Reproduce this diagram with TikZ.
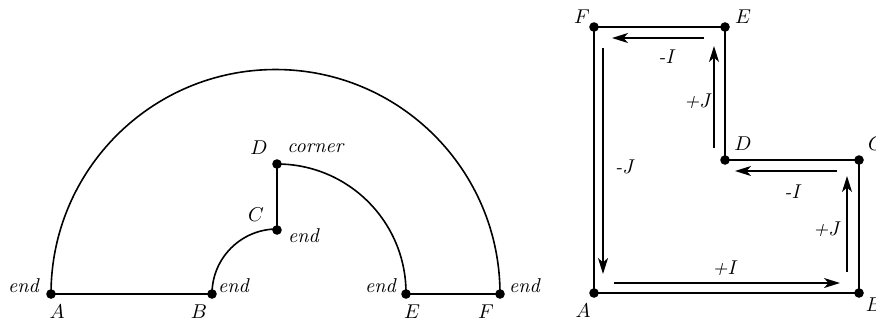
\documentclass[tikz,border=0pt]{standalone}
\usetikzlibrary{arrows.meta}
\begin{document}
\begin{tikzpicture}[x=0.5pt,y=-0.5pt,
  edge/.style={line width=0.8pt},
  pt/.style={circle,fill=black,inner sep=0pt,minimum size=4.8pt},
  flow/.style={line width=0.75pt,-{Stealth[length=8pt,width=5pt,inset=2.2pt]}},
  lbl/.style={inner sep=0pt}]
\useasboundingbox (0,0) rectangle (876,323);
% ---------- left figure ----------
\coordinate (LA) at (51,294);
\coordinate (LB) at (212,294);
\coordinate (LC) at (277,230);
\coordinate (LD) at (277,164);
\coordinate (LE) at (406,294);
\coordinate (LF) at (500,294);
\draw[edge] (LA) -- (LB);
\draw[edge] (LE) -- (LF);
\draw[edge] (LC) -- (LD);
\draw[edge] (LA) arc[start angle=180,end angle=360,radius=224.5];
\draw[edge] (LB) arc[start angle=180,end angle=270,radius=65];
\draw[edge] (LD) arc[start angle=270,end angle=360,radius=129];
\foreach \p in {LA,LB,LC,LD,LE,LF} \node[pt] at (\p) {};
\node[lbl] (tA) at (57,312) {$A$};
\node[lbl] (tB) at (199,312) {$B$};
\node[lbl] (tC) at (256,215) {$C$};
\node[lbl] (tD) at (259,148) {$D$};
\node[lbl] (tE) at (412,312) {$E$};
\node[lbl] (tF) at (486,312) {$F$};
\node[lbl] (eA) at (24,286) {\textit{end}};
\node[lbl] (eB) at (234,286) {\textit{end}};
\node[lbl] (eC) at (304,236) {\textit{end}};
\node[lbl] (cD) at (316,148) {\textit{corner}};
\node[lbl] (eE) at (381,286) {\textit{end}};
\node[lbl] (eF) at (525,286) {\textit{end}};
% ---------- right figure ----------
\coordinate (RA) at (594,293);
\coordinate (RB) at (859,293);
\coordinate (RC) at (859,160);
\coordinate (RD) at (725,160);
\coordinate (RE) at (725,27);
\coordinate (RF) at (594,27);
\draw[edge] (RA) -- (RB) -- (RC) -- (RD) -- (RE) -- (RF) -- cycle;
\foreach \p in {RA,RB,RC,RD,RE,RF} \node[pt] at (\p) {};
\node[lbl] (sF) at (582,17) {$F$};
\node[lbl] (sE) at (743,17) {$E$};
\node[lbl] (sD) at (743,144) {$D$};
\node[lbl] (sC) at (876,144) {$C$};
\node[lbl] (sA) at (583,311) {$A$};
\node[lbl] (sB) at (874,305) {$B$};
% flow arrows
\coordinate (a1s) at (704,38);  \coordinate (a1e) at (612,38);
\coordinate (a2s) at (714,148); \coordinate (a2e) at (714,46);
\coordinate (a3s) at (603,48);  \coordinate (a3e) at (603,274);
\coordinate (a4s) at (614,283); \coordinate (a4e) at (840,283);
\coordinate (a5s) at (847,272); \coordinate (a5e) at (847,176);
\coordinate (a6s) at (837,171); \coordinate (a6e) at (735,171);
\draw[flow] (a1s) -- (a1e);
\draw[flow] (a2s) -- (a2e);
\draw[flow] (a3s) -- (a3e);
\draw[flow] (a4s) -- (a4e);
\draw[flow] (a5s) -- (a5e);
\draw[flow] (a6s) -- (a6e);
\node[lbl] (l1) at (667,57) {\textit{-I}};
\node[lbl] (l2) at (698,101) {\textit{+J}};
\node[lbl] (l3) at (625,167) {\textit{-J}};
\node[lbl] (l4) at (725,268) {\textit{+I}};
\node[lbl] (l5) at (827,229) {\textit{+J}};
\node[lbl] (l6) at (793,192) {\textit{-I}};
\end{tikzpicture}
\end{document}
